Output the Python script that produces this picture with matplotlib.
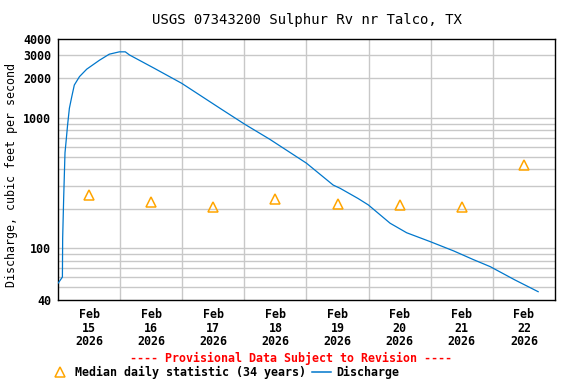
import matplotlib
matplotlib.use("Agg")
import matplotlib.pyplot as plt
from matplotlib.lines import Line2D
from matplotlib.ticker import FixedLocator, FixedFormatter, NullFormatter
import pandas as pd

# discharge readings: hours after 2026-02-15 00:00, cubic feet per second
flow_hours = [0.1, 1.2, 1.7, 1.8, 2.2, 2.7, 3.1, 3.7, 4.4, 5.3, 6.3, 8.3,
              11.1, 16.0, 19.8, 23.7, 26.0, 27.6, 37.3, 47.8, 63.1,
              72.1, 81.8, 96.0, 106.3, 109.0, 115.9, 119.9, 128.3, 134.7,
              143.8, 152.9, 160.2, 167.0, 176.5, 185.5]
flow_cfs = [54, 58, 60, 119, 246, 537, 650, 876, 1180, 1440, 1776, 2060,
            2350, 2750, 3060, 3190, 3190, 3020, 2380, 1830, 1160,
            890, 682, 447, 304, 287, 240, 214, 155, 131,
            112, 95, 82, 72, 57, 46.3]

# median daily statistic, one per day (plotted at noon)
median_days = ["2026-02-15", "2026-02-16", "2026-02-17", "2026-02-18",
               "2026-02-19", "2026-02-20", "2026-02-21", "2026-02-22"]
median_cfs = [255, 227, 208, 236, 216, 213, 205, 436]

y_ticks = [40, 100, 1000, 2000, 3000, 4000]
y_grid = [50, 60, 70, 80, 90, 100, 200, 300, 400, 500, 600, 700, 800, 900,
          1000, 2000, 3000]

start = pd.Timestamp("2026-02-15 00:00")
flow_times = [start + pd.Timedelta(hours=h) for h in flow_hours]
median_times = [pd.Timestamp(d) + pd.Timedelta(hours=12) for d in median_days]

plt.rcParams["font.family"] = "DejaVu Sans Mono"
plt.rcParams["font.weight"] = "bold"
plt.rcParams["font.size"] = 8.4

fig = plt.figure(figsize=(5.76, 3.84), dpi=100)
ax = fig.add_axes([0.1007, 0.2188, 0.8628, 0.6796])

grid_col = "#c8c8c8"
for v in y_grid:
    ax.axhline(v, color=grid_col, lw=1, zorder=0)
for d in pd.date_range("2026-02-16", "2026-02-22"):
    ax.axvline(d, color=grid_col, lw=1, zorder=0)

ax.plot(flow_times, flow_cfs, color="#0077cc", lw=0.9, zorder=3)
ax.plot(median_times, median_cfs, ls="none", marker="^", ms=7,
        mfc="none", mec="#ffa500", mew=1.1, zorder=4)

ax.set_yscale("log")
ax.set_ylim(40, 4000)
ax.yaxis.set_major_locator(FixedLocator(y_ticks))
ax.yaxis.set_major_formatter(FixedFormatter([str(t) for t in y_ticks]))
ax.yaxis.set_minor_formatter(NullFormatter())
ax.tick_params(axis="y", which="both", length=0, pad=5)

ax.set_xlim(pd.Timestamp("2026-02-15"), pd.Timestamp("2026-02-23"))
ax.set_xticks(median_times)
ax.set_xticklabels([t.strftime("%b\n%d\n%Y") for t in median_times],
                   linespacing=1.05)
ax.tick_params(axis="x", length=0, pad=6)

ax.set_ylabel("Discharge, cubic feet per second")
ax.yaxis.set_label_coords(-0.08, 0.48)
ax.set_title("USGS 07343200 Sulphur Rv nr Talco, TX", pad=11)

for s in ax.spines.values():
    s.set_linewidth(1)
    s.set_color("black")

fig.text(0.505, 0.066, "---- Provisional Data Subject to Revision ----",
         color="red", ha="center", va="center")

handles = [Line2D([], [], ls="none", marker="^", ms=7, mfc="none",
                  mec="#ffa500", mew=1.1),
           Line2D([], [], color="#0077cc", lw=1.1)]
fig.legend(handles, ["Median daily statistic (34 years)", "Discharge"],
           loc="center left", bbox_to_anchor=(0.088, 0.031), ncol=2,
           frameon=False, handlelength=1.65, handletextpad=0.42,
           columnspacing=0.5, borderpad=0, borderaxespad=0)

fig.savefig("out.png", dpi=100, facecolor="white")
